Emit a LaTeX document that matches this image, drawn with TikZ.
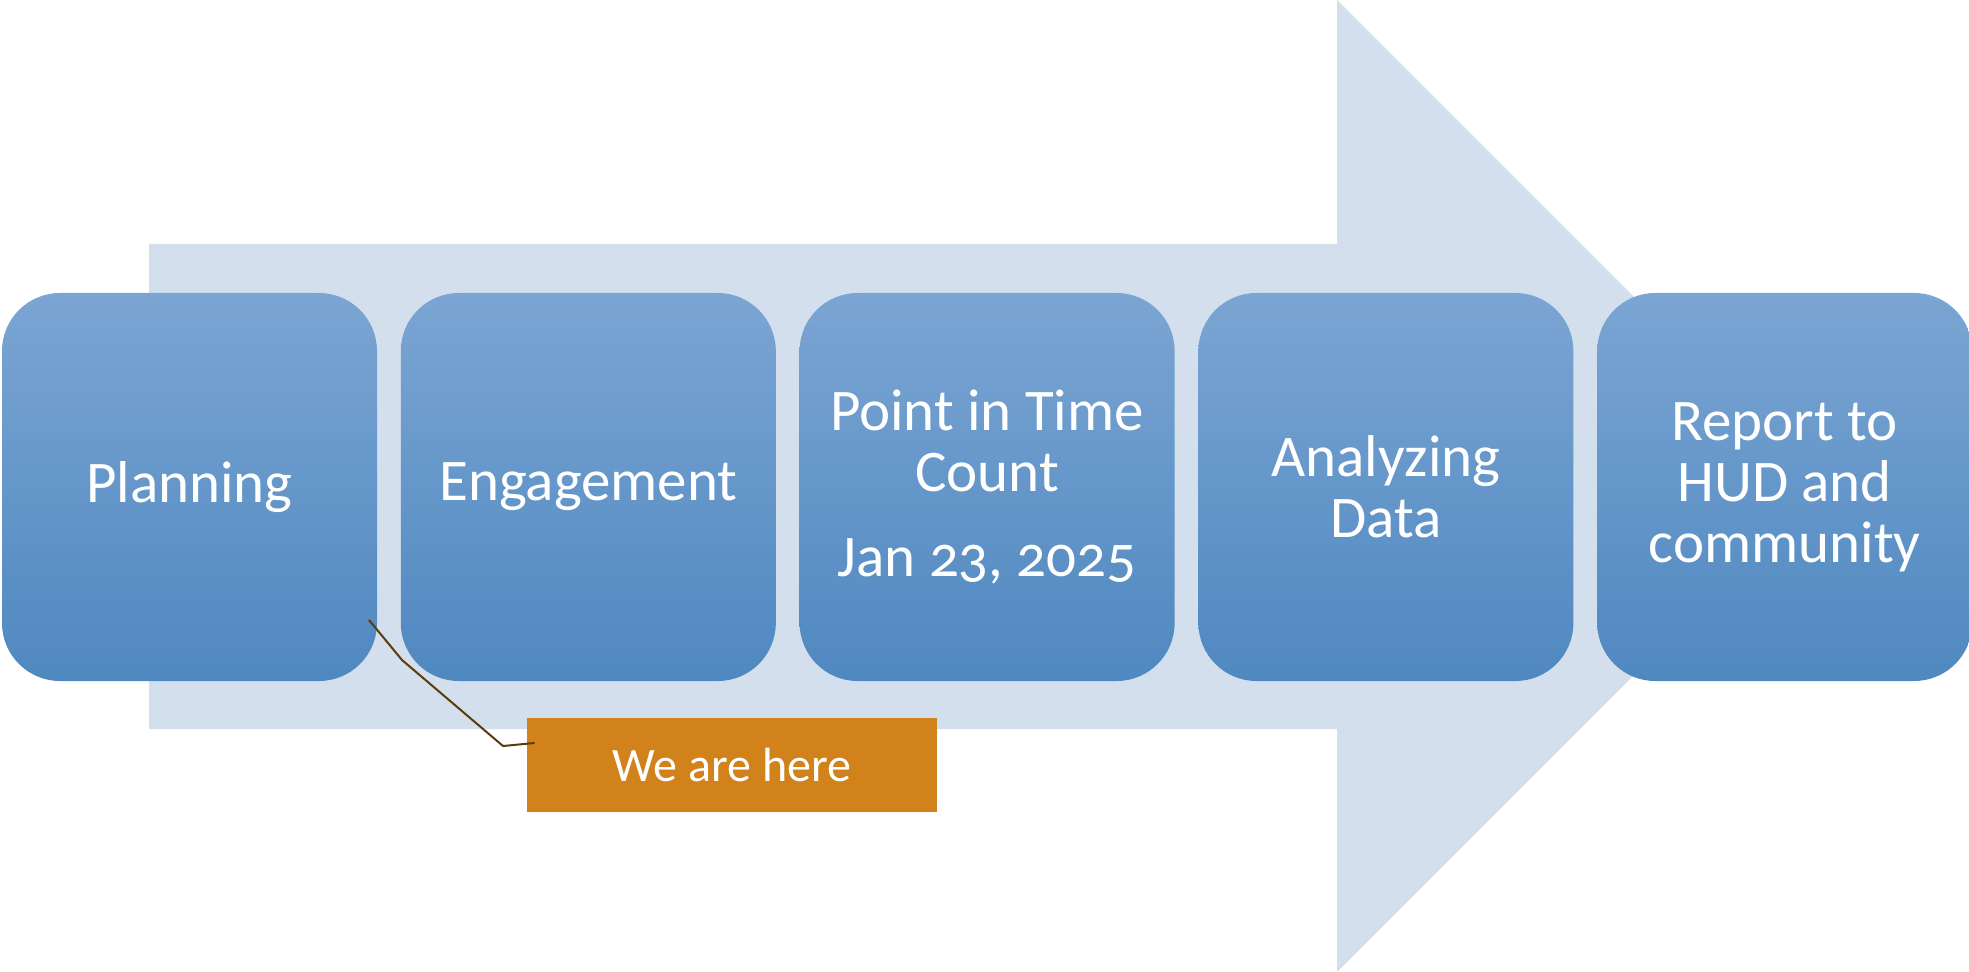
\documentclass[tikz,border=0pt]{standalone}
\usepackage{fontspec}
\setmainfont{Carlito}
\usepackage{xcolor}
\usetikzlibrary{positioning}
\definecolor{bodyblue}{HTML}{D3DFEC}
\definecolor{boxtop}{HTML}{7BA5D3}
\definecolor{boxbot}{HTML}{4F88C0}
\definecolor{herebg}{HTML}{D2821A}
\definecolor{leader}{HTML}{5C3A0E}

\begin{document}
\begin{tikzpicture}[x=0.5pt ,y=-0.5pt ,node distance =11.5pt ,
stage/.style ={ rectangle ,rounded corners =29pt ,top color =boxtop ,bottom color =boxbot ,
minimum width =187.5pt ,minimum height =194pt ,inner sep =0pt ,
text =white ,align =center ,font =\fontsize{29.5}{30.5}\selectfont},
note/.style ={ rectangle ,fill =herebg ,minimum width =205pt ,minimum height =47pt ,
text =white ,font =\fontsize{24}{30}\selectfont}]
\useasboundingbox (0,0) rectangle (1969,972);
\fill[bodyblue] (149,244) -- (1337,244) -- (1337,0) -- (1823,486)
  -- (1337,972) -- (1337,729) -- (149,729) -- cycle;

\node[stage] (Plan) at (189.5,487) {Planning};
\node[stage] (Engage) [right=of Plan] {Engagement};
\node[stage] (Count) [right=of Engage] {Point in Time\\Count\\[12pt]{\addfontfeatures{Numbers=OldStyle}Jan 23, 2025}};
\node[stage] (Analyze) [right=of Count] {Analyzing\\Data};
\node[stage] (Report) [right=of Analyze] {Report to\\HUD and\\community};

\node[note] (Here) at (732,765) {We are here};
\coordinate (tip) at (369,620);
\draw[leader ,line width =1pt] (tip) -- (402,660) -- (503,746)
  -- ([xshift=4pt ,yshift=11pt]Here.west);
\end{tikzpicture}
\end{document}
